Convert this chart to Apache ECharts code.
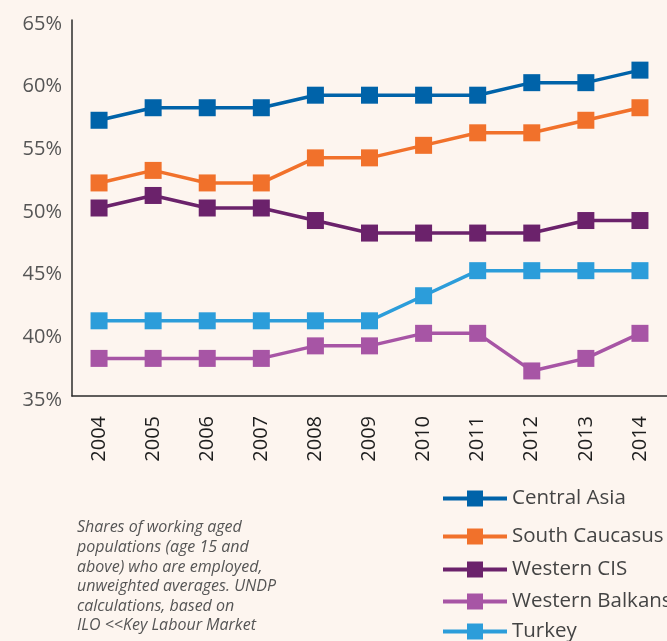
<!DOCTYPE html>
<html>
<head>
<meta charset="utf-8">
<script src="https://cdn.jsdelivr.net/npm/echarts@6/dist/echarts.min.js"></script>
<style>
  html, body { margin: 0; padding: 0; background: #FDF5EF; }
  #chart { width: 667px; height: 641px; }
</style>
</head>
<body>
<div id="chart"></div>
<script>
// categories (years)
const years = ['2004', '2005', '2006', '2007', '2008', '2009', '2010', '2011', '2012', '2013', '2014'];

// employment share, %
const regions = ['Central Asia', 'South Caucasus', 'Western CIS', 'Western Balkans', 'Turkey'];
const centralAsia = [57, 58, 58, 58, 59, 59, 59, 59, 60, 60, 61];
const southCaucasus = [52, 53, 52, 52, 54, 54, 55, 56, 56, 57, 58];
const westernCIS = [50, 51, 50, 50, 49, 48, 48, 48, 48, 49, 49];
const westernBalkans = [38, 38, 38, 38, 39, 39, 40, 40, 37, 38, 40];
const turkey = [41, 41, 41, 41, 41, 41, 43, 45, 45, 45, 45];

const noteLines = [
  'Shares of working aged',
  'populations (age 15 and',
  'above) who are employed,',
  'unweighted averages. UNDP',
  'calculations, based on',
  'ILO <<Key Labour Market'
];

const myChart = echarts.init(document.getElementById('chart'));

// one line series, same style for all
function makeSeries(name, data, color) {
  return {
    name: name,
    type: 'line',
    data: data,
    symbol: 'rect',
    symbolSize: 17,
    itemStyle: { color: color },
    lineStyle: { color: color, width: 3.5 },
    emphasis: { disabled: true },
    animation: false
  };
}

// legend rows are not evenly spaced in the original, one legend per row
const legendTops = [483, 521, 554, 586, 616];

myChart.setOption({
  backgroundColor: '#FDF5EF',
  textStyle: { fontFamily: 'Open Sans' },
  grid: {
    left: 72,
    top: 20,
    width: 596,
    height: 376
  },
  xAxis: {
    type: 'category',
    data: years,
    boundaryGap: true,
    axisLine: { lineStyle: { color: '#2b2b2b', width: 1.5 } },
    axisTick: { show: false },
    axisLabel: {
      rotate: 90,
      margin: 20,
      color: '#1e1e1e',
      fontSize: 20,
      fontFamily: 'Open Sans'
    }
  },
  yAxis: {
    type: 'value',
    min: 35,
    max: 65,
    interval: 5,
    axisLine: { show: true, lineStyle: { color: '#2b2b2b', width: 1.5 } },
    axisTick: { show: false },
    splitLine: { show: false },
    axisLabel: {
      formatter: '{a|{value}%}',
      margin: 10,
      rich: {
        a: {
          color: '#555',
          fontSize: 20,
          fontFamily: 'Open Sans',
          padding: [8, 0, 0, 0]
        }
      }
    }
  },
  legend: regions.map((name, i) => ({
    orient: 'vertical',
    left: 436,
    top: legendTops[i],
    width: 240,
    itemWidth: 64,
    itemHeight: 20,
    lineStyle: { width: 4 },
    textStyle: { color: '#444', fontSize: 20.5, fontFamily: 'Open Sans', overflow: 'none' },
    data: [name]
  })),
  graphic: [{
    type: 'text',
    left: 77,
    top: 518,
    style: {
      text: noteLines.join('\n'),
      font: 'italic 16px "Open Sans"',
      lineHeight: 19.6,
      fill: '#555'
    }
  }],
  series: [
    makeSeries(regions[0], centralAsia, '#0063A9'),
    makeSeries(regions[1], southCaucasus, '#F1712B'),
    makeSeries(regions[2], westernCIS, '#6B226B'),
    makeSeries(regions[3], westernBalkans, '#A755A5'),
    makeSeries(regions[4], turkey, '#2C9DDA')
  ]
});
</script>
</body>
</html>
